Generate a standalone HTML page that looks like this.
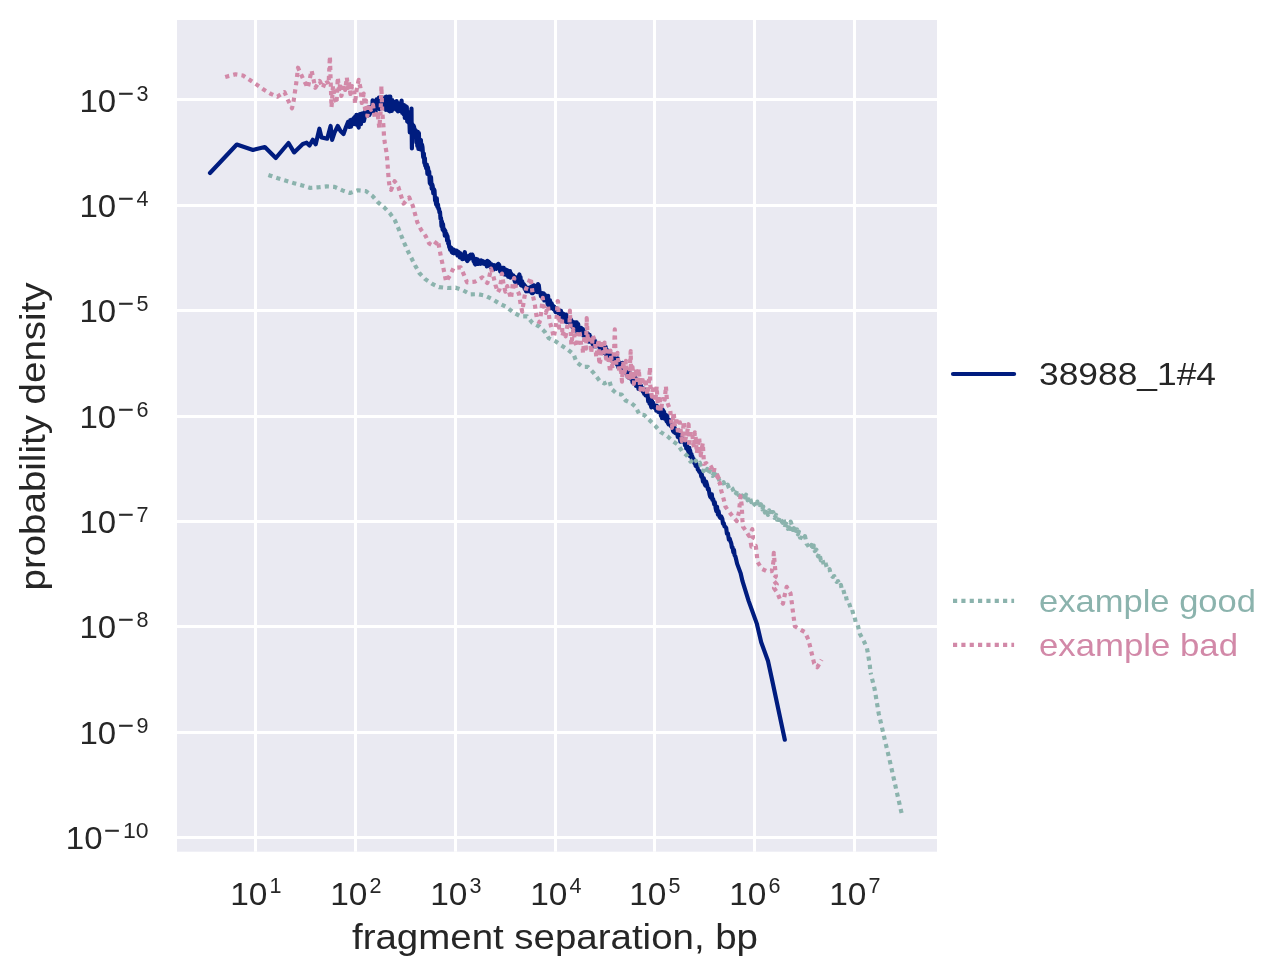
<!DOCTYPE html>
<html><head><meta charset="utf-8"><title>fragment separation</title>
<style>
html,body{margin:0;padding:0;background:#ffffff;}
body{width:1283px;height:976px;overflow:hidden;font-family:"Liberation Sans",sans-serif;}
svg{display:block;position:absolute;left:0;top:0;will-change:transform;transform:translateZ(0);}
text{font-family:"Liberation Sans",sans-serif;fill:#262626;-webkit-font-smoothing:antialiased;}
.tk{font-size:31px;}
.sp{font-size:21.5px;}
.lb{font-size:35px;}
.lg{font-size:32px;}
</style></head><body>
<svg width="1283" height="976" viewBox="0 0 1283 976">
<rect x="0" y="0" width="1283" height="976" fill="#ffffff"/>
<rect x="177" y="20" width="760" height="831.7" fill="#eaeaf2"/>
<g stroke="#ffffff" stroke-width="2.78" stroke-linecap="butt" fill="none">
<rect x="254" y="20" width="3" height="831.7" fill="#ffffff" stroke="none"/>
<rect x="354" y="20" width="3" height="831.7" fill="#ffffff" stroke="none"/>
<rect x="454" y="20" width="3" height="831.7" fill="#ffffff" stroke="none"/>
<rect x="554" y="20" width="3" height="831.7" fill="#ffffff" stroke="none"/>
<rect x="653" y="20" width="3" height="831.7" fill="#ffffff" stroke="none"/>
<rect x="753" y="20" width="3" height="831.7" fill="#ffffff" stroke="none"/>
<rect x="853" y="20" width="3" height="831.7" fill="#ffffff" stroke="none"/>
<rect x="177" y="98" width="760" height="3" fill="#ffffff" stroke="none"/>
<rect x="177" y="204" width="760" height="3" fill="#ffffff" stroke="none"/>
<rect x="177" y="309" width="760" height="3" fill="#ffffff" stroke="none"/>
<rect x="177" y="415" width="760" height="3" fill="#ffffff" stroke="none"/>
<rect x="177" y="520" width="760" height="3" fill="#ffffff" stroke="none"/>
<rect x="177" y="625" width="760" height="3" fill="#ffffff" stroke="none"/>
<rect x="177" y="731" width="760" height="3" fill="#ffffff" stroke="none"/>
<rect x="177" y="836" width="760" height="3" fill="#ffffff" stroke="none"/>
</g>
<g fill="none" stroke-linejoin="round">
<path d="M210.0,173.0 L236.8,144.5 L253.0,149.9 L264.8,147.0 L275.8,158.0 L288.5,143.0 L294.1,152.4 L302.8,143.9 L306.6,142.7 L309.5,145.5 L312.8,139.7 L315.7,144.3 L319.4,128.7 L321.5,137.4 L327.2,138.7 L330.6,126.0 L332.1,139.9 L334.6,132.4 L337.8,126.0 L340.5,131.0 L343.5,134.0 L346.0,127.0 L348.0,122.0 L348.6,126.5 L349.1,122.1 L349.5,127.0 L349.9,126.8 L350.3,120.0 L351.0,126.7 L351.7,119.7 L352.2,123.4 L352.7,124.3 L353.3,123.0 L353.9,118.7 L354.3,117.4 L354.8,122.9 L355.3,116.3 L355.7,124.5 L356.4,114.9 L357.1,123.9 L357.8,117.5 L358.2,126.3 L358.7,127.5 L358.7,115.1 L359.4,124.8 L359.9,114.2 L360.4,124.3 L361.0,124.1 L361.7,113.5 L362.3,120.1 L362.7,113.4 L363.4,113.2 L363.9,121.0 L364.4,118.6 L365.1,111.6 L365.6,116.4 L366.3,112.2 L366.8,111.4 L367.4,115.6 L367.9,115.7 L368.6,107.3 L369.2,115.0 L369.8,114.1 L370.5,107.0 L370.9,112.3 L371.3,110.9 L371.8,110.1 L372.3,110.2 L372.6,100.4 L373.1,110.7 L373.6,102.4 L374.3,111.3 L374.7,102.2 L375.2,112.0 L375.6,111.8 L376.0,100.8 L376.6,99.4 L377.2,107.5 L377.6,99.6 L378.3,107.7 L378.9,97.6 L379.6,109.2 L380.0,99.7 L380.4,105.4 L380.9,100.2 L381.4,106.7 L382.1,101.4 L382.6,105.0 L383.2,99.9 L383.7,106.8 L384.1,98.9 L384.8,108.6 L385.2,97.1 L385.9,109.8 L386.4,96.7 L386.8,105.9 L387.5,108.4 L388.2,109.4 L388.6,110.5 L388.7,99.0 L389.1,96.7 L389.6,111.3 L390.3,96.5 L390.8,108.6 L391.3,100.1 L391.8,110.9 L392.3,100.1 L392.8,109.1 L393.4,101.9 L393.9,103.1 L394.6,103.1 L395.2,108.4 L395.7,101.7 L396.2,109.5 L396.6,101.2 L397.2,110.3 L397.7,102.9 L398.0,111.5 L398.3,109.7 L398.9,104.3 L399.5,110.8 L399.9,103.8 L400.6,110.7 L401.1,111.2 L401.6,100.5 L402.2,113.0 L402.8,104.8 L403.5,114.1 L404.1,105.1 L404.7,114.1 L404.8,118.0 L405.3,107.6 L405.8,106.2 L406.3,107.7 L406.8,107.0 L407.2,121.5 L407.9,111.9 L408.3,122.3 L408.8,113.5 L409.4,121.4 L409.8,132.3 L410.1,123.7 L410.5,120.4 L411.0,124.9 L411.5,108.6 L411.6,121.0 L411.9,148.5 L412.3,124.2 L412.8,131.8 L413.5,127.0 L413.5,125.6 L414.1,127.1 L414.5,129.3 L415.0,137.1 L415.5,130.1 L416.0,133.4 L416.4,142.3 L416.8,133.0 L417.3,146.0 L417.8,131.8 L418.4,148.9 L418.9,133.0 L419.4,149.1 L419.9,139.9 L420.5,141.1 L420.9,139.9 L421.5,149.9 L422.0,144.7 L422.5,147.1 L423.2,157.2 L423.9,153.6 L424.3,162.8 L424.9,158.2 L425.2,165.7 L425.8,166.4 L426.2,168.3 L426.8,164.5 L427.4,173.8 L427.9,167.2 L428.5,171.1 L429.2,171.8 L429.8,182.9 L430.4,184.0 L431.0,177.2 L431.7,188.7 L432.2,184.4 L432.7,186.1 L433.3,193.2 L433.9,189.3 L434.5,190.5 L435.1,200.5 L435.7,201.5 L436.2,204.6 L436.8,198.4 L437.3,206.7 L438.0,204.5 L438.4,208.9 L439.0,208.6 L439.4,212.2 L440.0,211.8 L440.5,218.8 L441.0,217.9 L441.5,226.1 L441.9,221.4 L442.6,229.6 L443.0,224.1 L443.6,230.9 L444.3,229.2 L444.8,235.7 L445.3,230.7 L445.7,234.9 L446.2,233.4 L446.7,234.6 L447.1,240.7 L447.5,236.2 L448.2,243.6 L448.7,241.0 L449.2,247.1 L449.6,246.2 L450.1,249.8 L450.6,247.5 L451.1,247.7 L451.8,252.1 L452.4,249.1 L452.9,253.0 L453.6,249.6 L454.0,253.3 L454.6,252.7 L455.3,250.6 L455.9,253.1 L456.5,251.8 L457.0,250.8 L457.5,255.5 L458.1,252.2 L458.5,252.0 L459.0,252.5 L459.8,257.4 L460.4,253.2 L460.9,256.7 L461.7,255.1 L462.3,259.1 L462.8,254.6 L463.4,258.9 L464.1,254.1 L464.8,252.1 L465.4,255.8 L466.2,255.8 L467.0,260.5 L467.4,261.1 L468.2,257.8 L468.9,259.4 L469.3,255.6 L470.1,258.3 L470.6,254.5 L471.2,255.8 L471.8,256.3 L472.3,254.6 L472.9,255.9 L473.5,261.1 L474.0,258.5 L474.7,263.5 L475.3,264.5 L475.8,258.8 L476.3,263.0 L476.9,259.2 L477.6,259.5 L478.1,264.0 L478.8,260.7 L479.5,263.0 L480.1,260.6 L480.7,263.8 L481.1,260.3 L481.9,263.0 L482.3,263.4 L483.1,261.2 L483.8,263.4 L484.6,264.0 L485.3,264.1 L485.8,262.1 L486.3,261.7 L486.8,266.4 L487.3,260.8 L487.9,265.2 L488.5,261.6 L489.0,262.2 L489.6,262.8 L490.0,266.3 L490.8,267.3 L491.5,264.4 L492.3,269.4 L492.9,265.2 L493.4,269.6 L494.0,265.1 L494.5,266.3 L495.3,268.6 L495.9,267.0 L496.3,268.9 L497.1,264.9 L497.6,267.0 L498.3,263.8 L499.0,264.6 L499.4,265.5 L500.2,271.5 L500.7,269.3 L501.3,268.8 L501.8,273.4 L502.5,267.8 L503.1,273.7 L503.7,267.8 L504.3,274.4 L504.9,269.6 L505.5,274.6 L506.3,269.7 L507.0,275.0 L507.4,270.3 L508.2,276.7 L508.7,275.2 L509.4,277.0 L510.0,271.1 L510.5,277.6 L511.0,273.3 L511.5,276.8 L512.0,277.0 L512.6,275.5 L513.2,275.3 L513.7,276.2 L514.3,279.6 L514.9,281.7 L515.3,277.2 L515.9,282.1 L516.7,278.3 L517.2,283.5 L518.0,277.6 L518.7,276.7 L519.4,274.5 L520.0,282.5 L520.5,277.0 L521.1,285.4 L521.7,284.9 L522.2,281.2 L523.0,286.3 L523.7,283.9 L524.1,284.7 L524.7,288.9 L525.3,286.1 L526.0,291.3 L526.5,287.7 L527.2,291.3 L527.8,287.8 L528.3,291.1 L529.0,288.9 L529.7,290.8 L530.2,287.4 L530.8,292.1 L531.4,286.7 L532.0,293.2 L532.7,293.2 L533.4,285.2 L533.8,292.2 L534.3,291.6 L534.9,291.4 L535.5,290.2 L536.2,285.7 L536.8,285.7 L537.3,292.1 L538.0,284.2 L538.8,285.3 L539.5,291.2 L540.3,293.0 L541.0,296.2 L541.5,293.6 L542.1,293.2 L542.6,298.4 L543.0,294.6 L543.8,293.5 L544.3,300.5 L544.9,300.2 L545.6,295.2 L546.3,299.6 L547.0,296.0 L547.5,303.8 L548.1,295.9 L548.5,305.7 L549.3,305.3 L550.0,300.4 L550.6,306.3 L551.0,308.2 L551.6,303.4 L552.1,304.5 L552.6,305.3 L553.1,305.9 L553.7,309.4 L554.3,306.8 L554.8,310.2 L555.5,312.1 L556.1,308.2 L556.7,308.6 L557.4,312.1 L558.0,310.0 L558.5,313.7 L559.0,310.6 L559.4,315.5 L559.9,310.5 L560.5,317.3 L561.0,310.8 L561.4,318.7 L562.1,313.0 L562.8,317.8 L563.4,313.8 L563.9,314.6 L564.6,320.1 L565.2,314.8 L565.8,321.7 L566.3,314.7 L566.8,322.2 L567.3,320.7 L568.1,317.8 L568.8,321.6 L569.6,319.4 L570.2,324.1 L571.0,319.6 L571.5,325.8 L572.1,321.3 L572.5,327.2 L572.9,325.5 L573.5,323.0 L573.9,322.3 L574.6,328.3 L575.2,328.3 L575.9,322.4 L576.7,322.3 L577.1,330.4 L577.6,333.0 L578.2,324.1 L578.7,330.8 L579.4,331.2 L580.0,328.8 L580.5,332.7 L581.1,327.8 L581.8,333.7 L582.4,333.9 L582.9,329.1 L583.4,335.5 L584.1,334.3 L584.6,335.3 L585.0,332.2 L585.7,335.3 L586.3,332.8 L587.0,337.2 L587.7,333.4 L588.4,334.9 L589.0,341.7 L589.6,334.9 L590.3,340.4 L590.7,337.0 L591.5,342.4 L592.2,338.4 L592.8,344.7 L593.5,338.6 L594.0,346.3 L594.7,340.2 L595.4,345.8 L595.9,346.3 L596.4,342.5 L597.2,345.4 L597.7,346.0 L598.1,343.9 L598.9,343.4 L599.7,344.9 L600.5,350.2 L601.0,345.8 L601.5,349.4 L601.9,346.4 L602.6,350.7 L603.2,347.7 L603.7,352.9 L604.3,346.8 L604.9,353.2 L605.6,346.7 L606.4,356.2 L606.9,349.9 L607.4,355.6 L608.1,350.9 L608.6,356.2 L609.2,352.1 L609.7,357.8 L610.3,353.2 L610.7,358.8 L611.4,360.4 L611.8,354.7 L612.5,359.7 L613.2,357.0 L614.0,360.3 L614.6,357.9 L615.3,358.8 L615.9,358.8 L616.4,358.9 L617.0,364.5 L617.7,358.3 L618.2,367.2 L618.7,361.9 L619.4,367.4 L620.0,363.1 L620.5,368.8 L621.3,363.2 L621.9,369.1 L622.4,362.8 L623.0,370.7 L623.5,367.1 L624.0,371.1 L624.6,368.0 L625.2,371.9 L626.0,370.5 L626.7,374.3 L627.4,375.3 L627.8,376.7 L628.4,372.5 L628.9,371.6 L629.3,378.0 L629.8,372.8 L630.5,378.4 L631.2,374.5 L631.9,375.4 L632.5,382.3 L633.0,376.5 L633.6,377.5 L634.1,383.7 L634.7,375.9 L635.4,378.5 L636.0,385.8 L636.6,379.4 L637.3,380.9 L637.9,381.4 L638.4,388.9 L639.0,381.9 L639.7,383.5 L640.5,389.3 L641.1,385.9 L641.6,390.2 L642.4,388.5 L642.9,391.8 L643.5,388.6 L644.2,393.9 L644.8,389.6 L645.5,395.3 L646.2,391.7 L646.7,394.2 L647.5,394.0 L648.2,401.4 L648.8,395.7 L649.5,403.6 L650.1,397.4 L650.6,404.1 L651.3,407.4 L651.8,399.1 L652.4,405.6 L653.0,402.6 L653.7,407.2 L654.3,406.4 L655.0,408.1 L655.6,405.6 L656.2,410.6 L656.8,405.8 L657.5,407.0 L657.9,407.9 L658.4,411.9 L659.1,411.1 L659.8,412.1 L660.3,409.9 L660.9,415.7 L661.4,408.7 L662.0,418.2 L662.7,409.7 L663.2,410.6 L663.6,417.8 L664.1,411.9 L664.5,418.7 L665.1,414.2 L665.8,415.8 L666.5,421.3 L667.2,415.5 L667.8,422.8 L668.6,424.4 L669.1,419.9 L669.8,424.8 L670.4,421.9 L671.1,426.4 L671.8,424.5 L672.3,424.6 L673.0,430.8 L673.7,431.9 L674.3,427.0 L675.1,433.1 L675.6,429.4 L676.3,433.5 L677.1,430.8 L677.7,436.8 L678.2,430.1 L678.8,437.5 L679.5,433.6 L680.3,441.6 L680.9,435.3 L681.3,437.3 L681.9,441.5 L682.5,439.2 L683.3,439.8 L683.9,439.6 L684.6,441.3 L685.0,445.2 L685.7,443.2 L686.2,448.4 L687.0,445.7 L687.8,450.1 L688.3,451.1 L688.7,452.9 L689.3,447.8 L689.7,455.8 L690.2,450.6 L690.8,456.6 L691.5,453.9 L691.9,459.0 L692.4,456.6 L693.0,460.6 L693.7,459.2 L694.4,463.2 L694.8,461.2 L695.6,465.9 L696.2,463.0 L696.8,465.0 L697.4,466.6 L697.8,469.5 L698.5,470.2 L699.3,471.7 L700.0,471.4 L700.6,473.1 L701.3,476.6 L701.8,474.3 L702.5,478.4 L703.0,481.6 L703.8,478.3 L704.7,484.2 L705.5,485.6 L706.1,481.6 L707.1,485.0 L707.9,489.4 L708.6,488.7 L709.6,494.7 L710.3,496.9 L711.2,497.9 L711.8,494.3 L712.4,499.8 L713.2,499.1 L714.2,504.4 L714.8,502.3 L715.7,508.5 L716.3,511.1 L717.0,506.8 L717.9,514.4 L718.6,511.4 L719.4,516.4 L720.3,517.9 L721.3,516.5 L722.3,518.8 L723.0,523.7 L723.7,523.1 L724.5,526.4 L725.3,526.8 L726.2,528.0 L726.9,533.6 L727.9,533.3 L728.9,539.6 L729.7,538.6 L730.7,542.1 L731.3,543.6 L731.9,547.5 L732.5,547.1 L733.4,552.4 L734.0,550.0 L734.6,555.3 L735.4,556.4 L736.1,559.3 L737.1,563.6 L740.6,573.1 L742.5,581.2 L748.7,601.1 L756.8,623.6 L761.2,642.3 L768.0,661.0 L771.8,678.5 L784.8,739.7" stroke="#001c7f" stroke-width="4.17" stroke-linecap="round"/>
<path d="M268.4,175.0 L270.4,175.7 L277.9,178.2 L286.0,180.7 L294.1,183.2 L302.2,185.4 L310.3,187.9 L318.4,187.3 L326.8,186.4 L334.6,186.9 L342.4,190.4 L350.0,193.0 L358.1,190.3 L365.9,191.1 L372.4,195.9 L377.8,202.1 L384.2,207.4 L389.9,213.3 L394.8,220.1 L398.2,227.9 L401.3,235.7 L404.4,243.3 L407.7,250.8 L411.5,258.3 L415.3,265.8 L419.3,273.0 L424.9,278.9 L431.8,283.6 L439.0,287.1 L447.4,288.0 L455.7,287.7 L463.2,290.4 L470.4,294.4 L478.2,294.2 L485.4,295.7 L492.9,299.4 L499.8,303.8 L507.0,307.3 L513.5,312.6 L520.7,316.4 L527.2,316.3 L532.4,322.9 L539.4,326.6 L544.7,331.7 L548.7,338.2 L556.2,341.7 L560.9,345.1 L567.4,349.2 L573.6,354.4 L576.4,362.0 L582.6,366.9 L588.0,366.9 L593.6,372.9 L599.8,381.0 L604.4,383.5 L609.4,381.0 L611.7,389.1 L617.3,394.1 L621.6,394.5 L625.6,400.5 L631.2,403.0 L635.6,406.8 L639.3,414.3 L644.3,415.1 L650.3,420.9 L655.5,426.1 L660.5,432.0 L667.4,436.3 L673.0,441.4 L678.0,444.8 L682.0,451.0 L687.3,456.0 L690.4,461.6 L693.6,459.8 L694.5,462.4 L695.9,460.6 L697.3,464.2 L698.4,463.7 L699.9,462.8 L701.5,468.8 L702.6,468.5 L703.5,471.1 L704.5,468.7 L706.0,471.9 L707.3,468.8 L708.4,473.6 L710.0,470.7 L711.1,474.5 L712.6,475.8 L713.8,473.2 L714.7,477.0 L716.0,474.6 L717.0,479.2 L718.1,477.4 L719.8,481.5 L720.9,481.6 L722.4,483.1 L723.6,482.2 L724.7,485.9 L725.9,486.4 L727.6,484.6 L729.2,488.6 L730.7,486.8 L732.4,488.5 L733.9,491.8 L734.9,490.3 L736.0,493.4 L737.3,490.2 L738.6,495.1 L739.7,495.6 L740.8,492.7 L742.4,496.3 L744.0,493.5 L745.0,497.5 L746.1,494.7 L747.6,500.3 L748.7,496.3 L749.8,497.3 L751.2,502.0 L752.2,500.0 L753.5,503.0 L754.7,504.7 L755.9,506.0 L757.3,501.6 L758.3,505.8 L759.9,508.0 L760.9,504.2 L762.4,509.4 L763.3,506.5 L764.9,512.5 L766.5,508.5 L767.9,514.9 L769.1,510.3 L770.5,515.9 L771.9,512.2 L773.3,512.2 L774.7,517.9 L776.1,514.9 L777.1,519.8 L778.5,520.0 L779.9,516.7 L781.5,521.2 L782.7,522.9 L783.7,519.1 L784.8,527.5 L785.0,526.4 L786.4,523.8 L788.0,528.8 L789.2,524.3 L790.2,529.0 L790.7,521.5 L791.8,525.3 L792.9,530.0 L794.0,528.2 L795.4,532.9 L797.0,529.4 L797.9,534.3 L798.9,531.6 L800.0,537.6 L801.0,537.6 L802.6,538.2 L803.6,539.5 L805.0,536.1 L806.6,543.9 L807.9,545.3 L809.2,547.9 L810.3,547.9 L811.6,544.8 L812.8,550.4 L813.8,545.6 L814.8,551.1 L816.4,549.6 L818.0,556.3 L819.3,553.1 L820.8,560.3 L822.2,558.4 L823.9,565.3 L825.4,562.7 L827.0,568.0 L828.3,570.2 L829.6,569.2 L830.5,573.6 L831.7,575.7 L832.7,576.9 L834.3,576.2 L835.6,581.0 L836.7,581.9 L838.1,581.2 L839.7,586.1 L840.9,585.0 L842.0,590.2 L843.3,589.7 L844.6,594.9 L845.6,594.2 L846.8,600.6 L848.1,600.8 L849.4,604.2 L851.0,609.6 L852.1,609.3 L853.7,616.0 L854.7,617.3 L855.7,622.4 L856.8,624.0 L857.8,625.2 L859.7,633.6 L863.7,640.8 L866.9,647.9 L868.4,656.3 L869.7,664.5 L870.6,672.8" stroke="#8bb3ad" stroke-width="4.17" stroke-dasharray="4.17 4.17" stroke-linecap="butt"/>
<path d="M901.6,813.0 L901.1,811.0 L895.6,786.7 L890.2,762.6 L884.4,738.0 L878.7,713.4 L874.6,688.9 L870.6,672.8" stroke="#8bb3ad" stroke-width="4.17" stroke-dasharray="4.17 4.17" stroke-linecap="butt"/>
<path d="M225.2,77.0 L227.2,76.4 L235.5,74.3 L243.0,75.5 L249.9,80.1 L256.7,84.6 L263.6,89.5 L270.8,93.9 L277.3,96.7 L284.5,92.1 L287.9,99.9 L292.0,108.3 L293.5,101.7 L294.7,93.6 L296.0,84.9 L297.0,76.8 L298.0,67.7 L300.3,72.7 L303.7,80.1 L307.8,87.8 L311.6,70.5 L315.3,87.8 L319.7,80.9 L322.8,87.8 L326.0,80.0 L328.6,84.0 L329.9,56.3 L331.5,107.3 L333.0,86.0 L334.2,96.0 L336.5,103.6 L337.8,77.4 L339.2,92.0 L340.2,83.0 L341.4,96.0 L342.5,92.4 L344.0,84.0 L345.2,90.0 L346.8,77.4 L348.0,88.0 L349.0,82.0 L350.4,94.0 L352.0,86.0 L354.3,89.9 L355.0,103.6 L356.6,90.0 L358.7,79.9 L360.5,88.0 L361.8,103.0 L363.7,93.6 L365.0,109.2 L366.0,100.5 L367.4,116.0 L369.0,104.0 L371.0,109.8 L373.0,104.8 L374.9,118.5 L377.4,111.7 L379.3,127.9 L380.6,112.0 L381.4,86.1 L382.2,111.7 L383.0,120.0 L383.6,128.5 L384.0,136.6 L384.9,143.5 L386.7,153.5 L387.4,162.1 L388.0,170.0 L388.6,178.7 L389.6,186.8 L391.1,189.9 L394.6,181.2 L398.3,186.8 L400.8,194.9 L403.6,203.6 L409.2,197.4 L412.9,206.1 L415.2,214.5 L417.3,222.3 L421.0,229.6 L425.8,236.3 L429.1,243.5 L433.5,245.8 L437.9,240.4 L439.5,249.1 L441.0,257.2 L442.8,265.3 L444.5,273.6 L446.1,281.7 L449.9,275.5 L453.6,268.0 L460.7,267.4 L464.0,274.9 L467.0,282.3 L474.8,281.7 L482.3,277.4 L487.3,283.0 L489.2,277.1 L491.0,268.6 L493.5,276.7 L495.4,284.8 L497.9,292.3 L499.6,289.2 L501.0,281.0 L502.0,273.6 L503.5,284.0 L505.4,291.7 L507.2,286.1 L509.0,292.0 L511.0,298.6 L512.8,283.6 L514.1,278.0 L516.0,288.0 L519.1,294.2 L520.3,302.3 L522.2,311.6 L524.3,297.9 L525.9,289.2 L528.4,283.6 L530.7,277.4 L532.8,295.4 L534.6,303.0 L535.9,312.3 L537.2,320.4 L539.6,322.2 L540.9,314.1 L542.8,297.9 L543.6,305.4 L545.9,312.9 L548.0,306.0 L549.6,321.0 L552.1,329.7 L553.8,337.4 L555.9,326.0 L557.7,301.0 L558.0,301.2 L559.0,327.7 L560.6,317.2 L562.0,319.1 L562.4,336.0 L563.7,331.7 L565.6,336.3 L567.5,324.6 L569.5,324.5 L569.9,310.5 L571.3,344.9 L573.3,329.1 L575.2,343.2 L575.5,343.0 L576.8,346.9 L578.5,330.3 L579.8,333.3 L581.2,344.8 L582.5,346.6 L583.0,353.6 L584.5,335.5 L586.0,348.6 L586.7,318.0 L587.7,337.8 L589.7,335.6 L591.2,353.0 L592.9,335.6 L595.1,343.2 L596.3,357.7 L598.5,339.6 L599.2,364.8 L600.3,361.1 L601.8,340.4 L603.2,356.5 L604.6,342.5 L606.0,358.6 L607.4,347.2 L608.8,362.7 L610.4,372.3 L610.5,350.7 L612.5,368.6 L614.1,350.8 L614.8,329.3 L615.9,366.6 L617.5,352.9 L619.3,373.4 L621.1,371.2 L622.0,381.6 L623.2,361.0 L624.4,375.4 L625.9,360.8 L627.5,379.0 L629.1,380.7 L630.7,351.0 L631.2,378.2 L632.5,367.0 L633.8,383.9 L635.7,368.8 L637.4,383.9 L638.7,368.8 L640.4,389.8 L642.2,376.3 L643.7,389.8 L645.3,378.7 L647.3,394.6 L648.8,382.9 L650.0,367.3 L650.2,384.5 L651.9,396.7 L653.2,385.6 L655.3,401.5 L656.7,386.5 L657.9,408.3 L659.5,395.5 L660.8,411.3 L662.7,399.0 L664.8,399.6 L665.9,386.2 L667.0,401.1 L668.2,405.0 L670.1,408.9 L671.9,427.8 L673.7,412.7 L675.0,427.0 L676.4,417.4 L678.2,434.4 L679.9,422.4 L681.8,441.1 L683.9,421.7 L685.2,440.3 L687.3,431.4 L688.6,424.2 L689.2,446.6 L690.6,431.7 L692.1,432.8 L693.9,447.9 L694.8,432.3 L695.4,433.7 L696.8,453.2 L699.0,437.5 L699.2,438.3 L700.6,455.4 L702.8,443.0 L704.0,463.9 L706.2,463.1 L710.0,468.0 L714.9,465.6 L713.6,473.1 L717.0,476.0 L721.2,474.3 L716.0,479.5 L719.9,483.1 L721.2,490.5 L723.7,499.3 L725.5,506.8 L730.5,513.6 L736.8,521.1 L739.0,512.0 L740.5,496.2 L741.7,504.9 L742.4,519.9 L743.0,526.7 L745.9,530.8 L749.0,536.0 L752.3,529.2 L753.0,537.3 L750.5,541.0 L751.4,546.7 L755.8,545.8 L756.7,553.9 L757.6,562.0 L761.7,568.7 L766.7,571.2 L771.8,571.2 L773.4,561.9 L773.8,552.9 L775.1,568.1 L775.9,576.2 L773.0,580.0 L776.8,584.3 L774.0,588.0 L777.4,593.0 L780.5,600.5 L783.0,603.6 L784.6,595.5 L786.7,586.8 L790.5,593.3 L791.7,601.8 L792.7,609.9 L793.8,618.2 L794.8,626.3 L799.2,629.0 L804.8,632.1 L808.3,639.4 L810.4,647.7 L812.3,655.8 L814.2,663.5 L817.3,667.2 L821.6,659.8" stroke="#d289a8" stroke-width="4.17" stroke-dasharray="4.17 4.17" stroke-linecap="butt"/>
</g>
<text class="tk" x="79.4" y="112.0" textLength="36.7" lengthAdjust="spacingAndGlyphs">10</text>
<text class="sp" x="117.9" y="100.8" textLength="15.6" lengthAdjust="spacingAndGlyphs" style="stroke:#262626;stroke-width:0.45">−</text>
<text class="sp" x="136.5" y="100.8" textLength="12.0" lengthAdjust="spacingAndGlyphs">3</text>
<text class="tk" x="79.4" y="217.2" textLength="36.7" lengthAdjust="spacingAndGlyphs">10</text>
<text class="sp" x="117.9" y="206.0" textLength="15.6" lengthAdjust="spacingAndGlyphs" style="stroke:#262626;stroke-width:0.45">−</text>
<text class="sp" x="136.5" y="206.0" textLength="12.0" lengthAdjust="spacingAndGlyphs">4</text>
<text class="tk" x="79.4" y="322.2" textLength="36.7" lengthAdjust="spacingAndGlyphs">10</text>
<text class="sp" x="117.9" y="311.0" textLength="15.6" lengthAdjust="spacingAndGlyphs" style="stroke:#262626;stroke-width:0.45">−</text>
<text class="sp" x="136.5" y="311.0" textLength="12.0" lengthAdjust="spacingAndGlyphs">5</text>
<text class="tk" x="79.4" y="428.2" textLength="36.7" lengthAdjust="spacingAndGlyphs">10</text>
<text class="sp" x="117.9" y="417.0" textLength="15.6" lengthAdjust="spacingAndGlyphs" style="stroke:#262626;stroke-width:0.45">−</text>
<text class="sp" x="136.5" y="417.0" textLength="12.0" lengthAdjust="spacingAndGlyphs">6</text>
<text class="tk" x="79.4" y="533.2" textLength="36.7" lengthAdjust="spacingAndGlyphs">10</text>
<text class="sp" x="117.9" y="522.0" textLength="15.6" lengthAdjust="spacingAndGlyphs" style="stroke:#262626;stroke-width:0.45">−</text>
<text class="sp" x="136.5" y="522.0" textLength="12.0" lengthAdjust="spacingAndGlyphs">7</text>
<text class="tk" x="79.4" y="638.2" textLength="36.7" lengthAdjust="spacingAndGlyphs">10</text>
<text class="sp" x="117.9" y="627.0" textLength="15.6" lengthAdjust="spacingAndGlyphs" style="stroke:#262626;stroke-width:0.45">−</text>
<text class="sp" x="136.5" y="627.0" textLength="12.0" lengthAdjust="spacingAndGlyphs">8</text>
<text class="tk" x="79.4" y="744.2" textLength="36.7" lengthAdjust="spacingAndGlyphs">10</text>
<text class="sp" x="117.9" y="733.0" textLength="15.6" lengthAdjust="spacingAndGlyphs" style="stroke:#262626;stroke-width:0.45">−</text>
<text class="sp" x="136.5" y="733.0" textLength="12.0" lengthAdjust="spacingAndGlyphs">9</text>
<text class="tk" x="65.8" y="849.2" textLength="36.7" lengthAdjust="spacingAndGlyphs">10</text>
<text class="sp" x="104.3" y="838.0" textLength="15.6" lengthAdjust="spacingAndGlyphs" style="stroke:#262626;stroke-width:0.45">−</text>
<text class="sp" x="122.9" y="838.0" textLength="25.6" lengthAdjust="spacingAndGlyphs">10</text>
<text class="tk" x="230.2" y="905.2" textLength="37.2" lengthAdjust="spacingAndGlyphs">10</text>
<text class="sp" x="269.5" y="893.3" textLength="12.0" lengthAdjust="spacingAndGlyphs">1</text>
<text class="tk" x="330.2" y="905.2" textLength="37.2" lengthAdjust="spacingAndGlyphs">10</text>
<text class="sp" x="369.5" y="893.3" textLength="12.0" lengthAdjust="spacingAndGlyphs">2</text>
<text class="tk" x="430.2" y="905.2" textLength="37.2" lengthAdjust="spacingAndGlyphs">10</text>
<text class="sp" x="469.5" y="893.3" textLength="12.0" lengthAdjust="spacingAndGlyphs">3</text>
<text class="tk" x="530.2" y="905.2" textLength="37.2" lengthAdjust="spacingAndGlyphs">10</text>
<text class="sp" x="569.5" y="893.3" textLength="12.0" lengthAdjust="spacingAndGlyphs">4</text>
<text class="tk" x="629.2" y="905.2" textLength="37.2" lengthAdjust="spacingAndGlyphs">10</text>
<text class="sp" x="668.5" y="893.3" textLength="12.0" lengthAdjust="spacingAndGlyphs">5</text>
<text class="tk" x="729.2" y="905.2" textLength="37.2" lengthAdjust="spacingAndGlyphs">10</text>
<text class="sp" x="768.5" y="893.3" textLength="12.0" lengthAdjust="spacingAndGlyphs">6</text>
<text class="tk" x="829.2" y="905.2" textLength="37.2" lengthAdjust="spacingAndGlyphs">10</text>
<text class="sp" x="868.5" y="893.3" textLength="12.0" lengthAdjust="spacingAndGlyphs">7</text>
<text class="lb" x="352" y="949" textLength="406" lengthAdjust="spacingAndGlyphs">fragment separation, bp</text>
<text class="lb" transform="translate(44.5,590.5) rotate(-90)" x="0" y="0" textLength="308" lengthAdjust="spacingAndGlyphs">probability density</text>
<line x1="953" y1="374" x2="1014.1" y2="374" stroke="#001c7f" stroke-width="4.17" stroke-linecap="round"/>
<text class="lg" x="1039" y="385" textLength="177" style="font-size:31px" lengthAdjust="spacingAndGlyphs">38988_1#4</text>
<line x1="953" y1="600.9" x2="1014.1" y2="600.9" stroke="#8bb3ad" stroke-width="4.17" stroke-dasharray="4.17 4.17"/>
<text class="lg" x="1039" y="612" textLength="217" lengthAdjust="spacingAndGlyphs" style="fill:#8bb3ad">example good</text>
<line x1="953" y1="644.9" x2="1014.1" y2="644.9" stroke="#d289a8" stroke-width="4.17" stroke-dasharray="4.17 4.17"/>
<text class="lg" x="1039" y="656" textLength="199" lengthAdjust="spacingAndGlyphs" style="fill:#d289a8">example bad</text>
</svg></body></html>
